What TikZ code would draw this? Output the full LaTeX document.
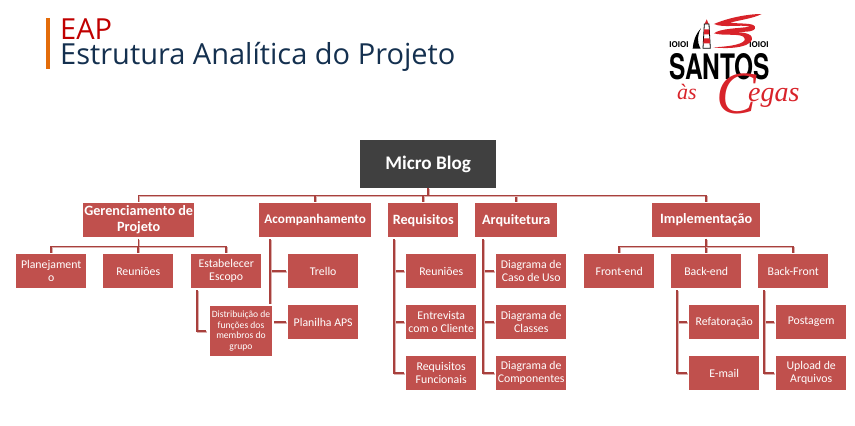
\documentclass[tikz,border=0pt]{standalone}
\usepackage{fontspec}
\usepackage{graphicx}
\setmainfont{Carlito}
\newfontfamily\titlefont{Open Sans}
\newfontfamily\logofont{TeX Gyre Heros}
\newfontfamily\handfont{Liberation Serif}
\definecolor{boxred}{HTML}{C0504D}
\definecolor{linered}{HTML}{A8403D}
\definecolor{lineshade}{HTML}{DDB0AE}
\definecolor{rootgrey}{HTML}{404040}
\definecolor{barorange}{HTML}{E36C0A}
\definecolor{titlered}{HTML}{C00000}
\definecolor{titleblue}{HTML}{14304F}
\definecolor{logored}{HTML}{D8232A}
\tikzset{
  box/.style={fill=boxred,text=white,inner sep=0pt,align=center,anchor=north west,font=\fontsize{11.8}{13}\selectfont},
  leaf/.style={box,minimum width=70pt,minimum height=34pt},
  head/.style={box,minimum height=34pt,font=\fontsize{14.2}{16}\selectfont\bfseries},
  conn/.style={draw=linered,line width=1.5pt,preaction={draw=lineshade,line width=1.5pt,transform canvas={shift={(0.8pt,-0.9pt)}}}},
}
\begin{document}
\begin{tikzpicture}[x=1pt,y=-1pt]
\useasboundingbox (0,0) rectangle (855,426);
% title
\fill[barorange] (46,18) rectangle (50,69);
\node[anchor=base west,inner sep=0pt,text=titlered,font=\titlefont\fontsize{29}{32}\selectfont] (eap) at (60,39.5) {EAP};
\node[anchor=base west,inner sep=0pt,text=titleblue,font=\titlefont\fontsize{29}{32}\selectfont] (ttl) at (60,64) {Estrutura Analítica do Projeto};
% logo
\node[anchor=north west,inner sep=0pt] (santos) at (669,53) {\resizebox{101pt}{26pt}{\logofont\bfseries SANTOS}};
\node[anchor=center,inner sep=0pt,font=\logofont\bfseries\fontsize{8}{8}\selectfont] (chainl) at (679,45) {IOIOI};
\node[anchor=center,inner sep=0pt,font=\logofont\bfseries\fontsize{8}{8}\selectfont] (chainr) at (759,45) {IOIOI};
\begin{scope}[shift={(640,0)},x=0.3333pt,y=-0.3333pt]
  \fill[black] (183,85) .. controls (165,105) and (160,125) .. (158,146) -- (182,146) .. controls (170,125) and (172,105) .. (183,85) -- cycle;
  \fill[logored] (200,58) -- (206,72) -- (194,72) -- cycle;
  \draw[black,line width=0.8pt,fill=white] (193,72) -- (207,72) -- (211,145) -- (189,145) -- cycle;
  \fill[logored] (192.5,88) -- (207.5,88) -- (208.5,103) -- (191.5,103) -- cycle;
  \fill[logored] (191,115) -- (209,115) -- (210,130) -- (190,130) -- cycle;
  \fill[logored] (365,42) .. controls (320,42) and (260,55) .. (222,72)
    .. controls (250,85) and (300,72) .. (330,80)
    .. controls (300,85) and (240,85) .. (222,100)
    .. controls (250,108) and (295,100) .. (310,110)
    .. controls (325,125) and (300,138) .. (220,142)
    .. controls (290,150) and (345,135) .. (335,110)
    .. controls (325,95) and (290,97) .. (270,95)
    .. controls (300,95) and (350,100) .. (345,80)
    .. controls (340,68) and (300,72) .. (270,68)
    .. controls (300,60) and (340,55) .. (365,42) -- cycle;
\end{scope}
\node[anchor=base west,inner sep=0pt,text=logored,font=\handfont\itshape\fontsize{22}{24}\selectfont] (as) at (677,99) {às};
\node[anchor=base west,inner sep=0pt,text=logored,font=\handfont\itshape\fontsize{28}{28}\selectfont] (cegas) at (716,101) {\raisebox{-12pt}{\fontsize{60}{60}\selectfont C}\kern-8pt egas};
% boxes
\node[box,fill=rootgrey,minimum width=136pt,minimum height=48pt,font=\fontsize{19.2}{22}\selectfont\bfseries] (root) at (360,140) {Micro Blog};
\node[head,minimum width=111pt] (ger) at (83,203) {Gerenciamento de\\Projeto};
\node[head,minimum width=112pt,font=\fontsize{13.2}{16}\selectfont\bfseries] (aco) at (259,203) {Acompanhamento};
\node[head,minimum width=70pt] (req) at (388,203) {Requisitos};
\node[head,minimum width=82pt] (arq) at (475,203) {Arquitetura};
\node[head,minimum width=108pt] (imp) at (652,203) {Implementação};
\node[leaf] (pla) at (16,254) {Planejament\\o};
\node[leaf] (reu) at (103,254) {Reuniões};
\node[leaf] (est) at (191,254) {Estabelecer\\Escopo};
\node[leaf] (tre) at (288,254) {Trello};
\node[leaf] (pan) at (288,305) {Planilha APS};
\node[leaf] (rq1) at (406,254) {Reuniões};
\node[leaf] (rq2) at (406,305) {Entrevista\\com o Cliente};
\node[leaf] (rq3) at (406,356) {Requisitos\\Funcionais};
\node[leaf] (aq1) at (496,254) {Diagrama de\\Caso de Uso};
\node[leaf] (aq2) at (496,305) {Diagrama de\\Classes};
\node[leaf] (aq3) at (496,356) {Diagrama de\\Componentes};
\node[leaf] (fro) at (584,254) {Front-end};
\node[leaf] (bak) at (671,254) {Back-end};
\node[leaf] (bfr) at (758,254) {Back-Front};
\node[leaf] (ref) at (689,305) {Refatoração};
\node[leaf] (ema) at (689,356) {E-mail};
\node[leaf] (pos) at (776,305) {Postagem};
\node[leaf] (upl) at (776,356) {Upload de\\Arquivos};
% connectors
\coordinate (busroot) at ([yshift=-7pt]root.south);
\foreach \c in {ger,aco,req,arq,imp}
  \draw[conn,shorten >=1.5pt] (root.south) -- (busroot) -| (\c.north);
\coordinate (gerbus) at ([yshift=-9pt]ger.south);
\foreach \c in {pla,reu,est}
  \draw[conn,shorten <=1.5pt,shorten >=1.5pt] (ger.south) -- (gerbus) -| (\c.north);
\coordinate (impbus) at ([yshift=-9pt]imp.south);
\foreach \c in {fro,bak,bfr}
  \draw[conn,shorten <=1.5pt,shorten >=1.5pt] (imp.south) -- (impbus) -| (\c.north);
\coordinate (acot) at ([xshift=11pt]aco.south west);
\foreach \c in {tre,pan}
  \draw[conn,shorten <=2pt,shorten >=2pt] (acot) |- (\c.west);
\coordinate (reqt) at ([xshift=6pt]req.south west);
\foreach \c in {rq1,rq2,rq3}
  \draw[conn,shorten <=2pt,shorten >=2pt] (reqt) |- (\c.west);
\coordinate (arqt) at ([xshift=8pt]arq.south west);
\foreach \c in {aq1,aq2,aq3}
  \draw[conn,shorten <=2pt,shorten >=2pt] (arqt) |- (\c.west);
\coordinate (bakt) at ([xshift=6pt]bak.south west);
\foreach \c in {ref,ema}
  \draw[conn,shorten <=2pt,shorten >=2pt] (bakt) |- (\c.west);
\coordinate (bfrt) at ([xshift=6pt]bfr.south west);
\foreach \c in {pos,upl}
  \draw[conn,shorten <=2pt,shorten >=2pt] (bfrt) |- (\c.west);
% overlapping box sits on top of the connector behind it
\node[box,draw=white,line width=2pt,minimum width=64pt,minimum height=52pt,font=\fontsize{9.6}{10.6}\selectfont] (dis) at (208,304) {Distribuição de\\funções dos\\membros do\\grupo};
\coordinate (estt) at ([xshift=6pt]est.south west);
\draw[conn,shorten <=2pt,shorten >=2pt] (estt) |- (dis.west);
\end{tikzpicture}
\end{document}
